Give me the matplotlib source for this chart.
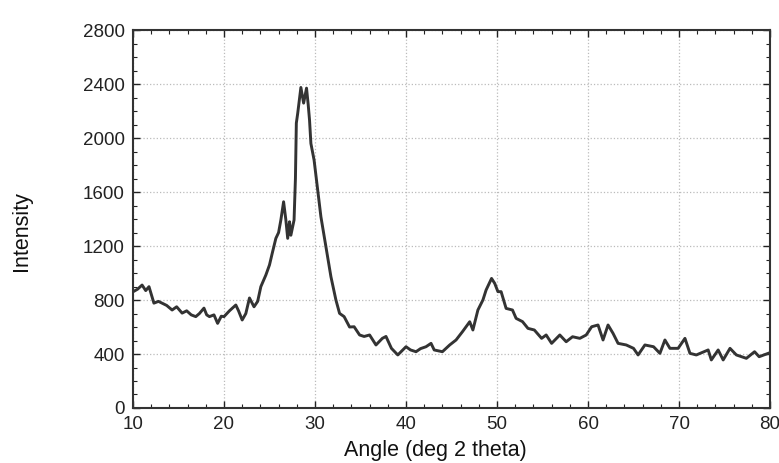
import matplotlib
matplotlib.use("Agg")
import matplotlib.pyplot as plt
from matplotlib.ticker import MultipleLocator

angle = [10.0, 10.5, 11.0, 11.4, 11.76, 12.3, 12.8, 13.2, 13.7, 14.3, 14.8, 15.4, 15.9, 16.4, 16.9,
         17.3, 17.8, 18.1, 18.4, 18.9, 19.3, 19.7, 20.0, 20.6, 21.3, 21.6, 22.0, 22.4, 22.8, 23.3,
         23.7, 24.05, 24.6, 25.0, 25.3, 25.7, 26.0, 26.25, 26.55, 26.8, 27.0, 27.2, 27.35, 27.7,
         27.85, 27.95, 28.1, 28.45, 28.75, 29.07, 29.25, 29.4, 29.55, 29.9, 30.3, 30.65, 31.2,
         31.75, 32.3, 32.7, 33.2, 33.8, 34.3, 34.9, 35.4, 36.0, 36.7, 37.4, 37.8, 38.4, 39.1, 40.0,
         40.5, 41.1, 41.6, 42.2, 42.75, 43.1, 44.0, 44.8, 45.5, 46.2, 47.0, 47.35, 47.9, 48.45, 48.8,
         49.4, 49.75, 50.1, 50.45, 51.0, 51.7, 52.1, 52.8, 53.4, 54.1, 54.9, 55.4, 56.0, 56.9, 57.6,
         58.3, 59.1, 59.8, 60.4, 61.1, 61.65, 62.2, 62.75, 63.3, 64.2, 65.0, 65.5, 66.25, 67.2, 67.9,
         68.45, 69.0, 69.9, 70.65, 71.2, 71.9, 73.2, 73.55, 74.3, 74.85, 75.6, 76.3, 77.4, 78.3,
         78.8, 79.8]
intensity = [861, 880, 911, 870, 899, 777, 790, 777, 760, 726, 750, 703, 720, 690, 677,
             700, 740, 690, 677, 690, 627, 680, 677, 720, 763, 720, 652, 700, 815, 750,
             790, 899, 985, 1060, 1146, 1257, 1300, 1393, 1528, 1393, 1257, 1380, 1280, 1393,
             1700, 2111, 2183, 2375, 2259, 2370, 2250, 2133, 1960, 1837, 1615, 1417, 1195,
             973, 800, 701, 677, 600, 602, 541, 530, 541, 467, 516, 530, 442, 393, 454,
             430, 417, 440, 454, 479, 430, 417, 467, 504, 565, 639, 578, 726, 800, 874,
             960, 923, 862, 862, 738, 726, 664, 640, 590, 578, 516, 541, 479, 541, 491,
             528, 516, 541, 602, 615, 504, 615, 553, 479, 467, 442, 393, 467, 454, 405,
             504, 442, 442, 516, 405, 393, 430, 356, 430, 356, 442, 393, 368, 417,
             380, 405]

plt.rcParams['font.family'] = ['Liberation Sans', 'DejaVu Sans']

fig = plt.figure(figsize=(7.79, 4.63), dpi=100)
ax = fig.add_axes([0.1707, 0.1188, 0.8178, 0.8162])
ax.plot(angle, intensity, color='#333333', lw=2.1)

ax.set_xlim(10, 80)
ax.set_ylim(0, 2800)
ax.xaxis.set_major_locator(MultipleLocator(10))
ax.xaxis.set_minor_locator(MultipleLocator(2))
ax.yaxis.set_major_locator(MultipleLocator(400))
ax.yaxis.set_minor_locator(MultipleLocator(100))
ax.grid(True, which='major', color='#bbbbbb', linestyle=':', lw=0.9)
ax.tick_params(which='both', direction='in', top=True, right=True, labelsize=13.5, colors='#222222')
ax.tick_params(axis='x', which='major', pad=6)
ax.tick_params(axis='y', which='major', pad=6)
ax.tick_params(which='major', length=5, width=1)
ax.tick_params(which='minor', length=3, width=0.8)
for s in ax.spines.values():
    s.set_linewidth(1.5)
    s.set_color('#333333')

ax.set_xlabel('Angle (deg 2 theta)', fontsize=15.5, color='#111111')
ax.xaxis.set_label_coords(0.475, -0.085)
fig.text(0.028, 0.5, 'Intensity', rotation=90, va='center', ha='center', fontsize=15.5, color='#111111')

fig.savefig('out.png', dpi=100, facecolor='white')
